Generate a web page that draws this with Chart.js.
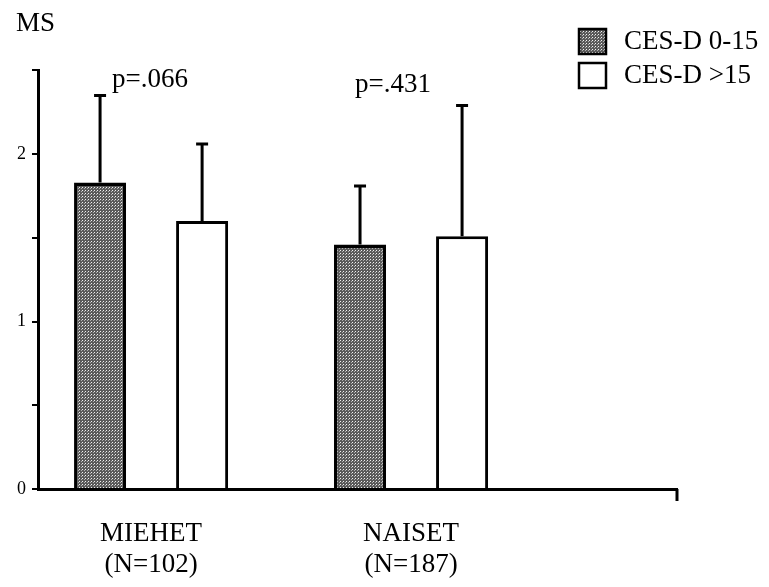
<!DOCTYPE html>
<html>
<head>
<meta charset="utf-8">
<script src="https://cdn.jsdelivr.net/npm/chart.js@4.4.1/dist/chart.umd.min.js"></script>
<style>
  body { margin: 0; background: #fff; }
  #wrap { width: 769px; height: 587px; }
</style>
</head>
<body>
<div id="wrap"><canvas id="chart" width="769" height="587"></canvas></div>
<script>
// data
const groups = ['MIEHET', 'NAISET'];
const groupN = ['(N=102)', '(N=187)'];
const groupX = [1, 2];
const seriesNames = ['CES-D 0-15', 'CES-D >15'];
const meansLow = [1.83, 1.46];
const meansHigh = [1.60, 1.51];
const sdLow = [0.52, 0.35];
const sdHigh = [0.46, 0.78];
const pValues = ['p=.066', 'p=.431'];
const pLevels = [2.40, 2.37];

const FONT = "'Liberation Serif', 'Times New Roman', serif";

const makeStipple = () => {
    const c = document.createElement('canvas');
    c.width = 3;
    c.height = 3;
    const g = c.getContext('2d');
    g.fillStyle = '#5a5a5a';
    g.fillRect(0, 0, 3, 3);
    g.fillStyle = '#f0f0f0';
    g.fillRect(1, 1, 1, 1);
    g.fillStyle = '#b0b0b0';
    g.fillRect(0, 2, 1, 1);
    return g.createPattern(c, 'repeat');
}

const stipple = makeStipple();

const errorBars = {
    id: 'errorBars',
    afterDatasetsDraw(chart) {
        const ctx = chart.ctx;
        const y = chart.scales.y;
        const x = chart.scales.x;
        ctx.save();
        ctx.strokeStyle = '#000';
        ctx.lineWidth = 3;
        chart.data.datasets.forEach((ds, di) => {
            chart.getDatasetMeta(di).data.forEach((bar, i) => {
                const top = y.getPixelForValue(ds.data[i].y + ds.sd[i]);
                ctx.beginPath();
                ctx.moveTo(bar.x, bar.y);
                ctx.lineTo(bar.x, top);
                ctx.moveTo(bar.x - 6, top);
                ctx.lineTo(bar.x + 6, top);
                ctx.stroke();
            });
        });

        // p-values above each group
        ctx.fillStyle = '#000';
        ctx.font = `27px ${FONT}`;
        ctx.textAlign = 'center';
        ctx.textBaseline = 'alphabetic';
        const shift = [-1, -18];
        pValues.forEach((p, i) => {
            ctx.fillText(p, x.getPixelForValue(groupX[i]) + shift[i], y.getPixelForValue(pLevels[i]));
        });

        // small tick closing the x axis
        const area = chart.chartArea;
        ctx.beginPath();
        ctx.moveTo(area.right, area.bottom);
        ctx.lineTo(area.right, area.bottom + 12);
        ctx.stroke();
        ctx.restore();
    }
}

const legendBox = {
    id: 'legendBox',
    afterDraw(chart) {
        const ctx = chart.ctx;
        ctx.save();
        chart.data.datasets.forEach((ds, i) => {
            const top = 29 + i * 34;
            ctx.fillStyle = ds.backgroundColor;
            ctx.fillRect(579, top, 27, 25);
            ctx.lineWidth = 2.5;
            ctx.strokeStyle = '#000';
            ctx.strokeRect(579, top, 27, 25);
            ctx.fillStyle = '#000';
            ctx.font = `27px ${FONT}`;
            ctx.textBaseline = 'middle';
            ctx.fillText(ds.label, 624, top + 13);
        });
        ctx.restore();
    }
}

new Chart(document.getElementById('chart'), {
    type: 'bar',
    data: {
        datasets: [{
            label: seriesNames[0],
            data: groupX.map((x, i) => ({x: x, y: meansLow[i]})),
            sd: sdLow,
            backgroundColor: stipple,
            borderColor: '#000',
            borderWidth: 3.5
        }, {
            label: seriesNames[1],
            data: groupX.map((x, i) => ({x: x, y: meansHigh[i]})),
            sd: sdHigh,
            backgroundColor: '#fff',
            borderColor: '#000',
            borderWidth: 3
        }]
    },
    options: {
        responsive: false,
        animation: false,
        categoryPercentage: 0.785,
        barPercentage: 0.51,
        layout: {
            padding: {left: 16, right: 92, top: 0, bottom: 0}
        },
        plugins: {
            legend: {display: false},
            tooltip: {enabled: false},
            title: {
                display: true,
                text: 'MS',
                align: 'start',
                color: '#000',
                font: {family: FONT, size: 27, weight: 'normal'},
                padding: {top: 8, bottom: 30}
            }
        },
        scales: {
            x: {
                type: 'linear',
                min: 0.565,
                max: 3.023,
                offset: false,
                afterBuildTicks: (scale) => {
                    scale.ticks = groupX.map(v => ({value: v}));
                },
                afterFit: (scale) => {
                    scale.height = 98;
                },
                ticks: {
                    autoSkip: false,
                    maxRotation: 0,
                    padding: 29,
                    color: '#000',
                    font: {family: FONT, size: 27, lineHeight: 1.15},
                    callback: (v) => {
                        const i = groupX.indexOf(v);
                        return i < 0 ? '' : [groups[i], groupN[i]];
                    }
                },
                grid: {display: false, drawTicks: false},
                border: {display: true, color: '#000', width: 3}
            },
            y: {
                min: 0,
                max: 2.5,
                afterFit: (scale) => {
                    scale.width = 22;
                },
                ticks: {
                    stepSize: 0.5,
                    padding: 6,
                    color: '#000',
                    font: {family: FONT, size: 18},
                    callback: (v) => Number.isInteger(v) ? String(v) : ''
                },
                grid: {
                    display: true,
                    drawOnChartArea: false,
                    drawTicks: true,
                    tickLength: 6,
                    color: '#000',
                    lineWidth: 2
                },
                border: {display: true, color: '#000', width: 3}
            }
        }
    },
    plugins: [errorBars, legendBox]
});
</script>
</body>
</html>
